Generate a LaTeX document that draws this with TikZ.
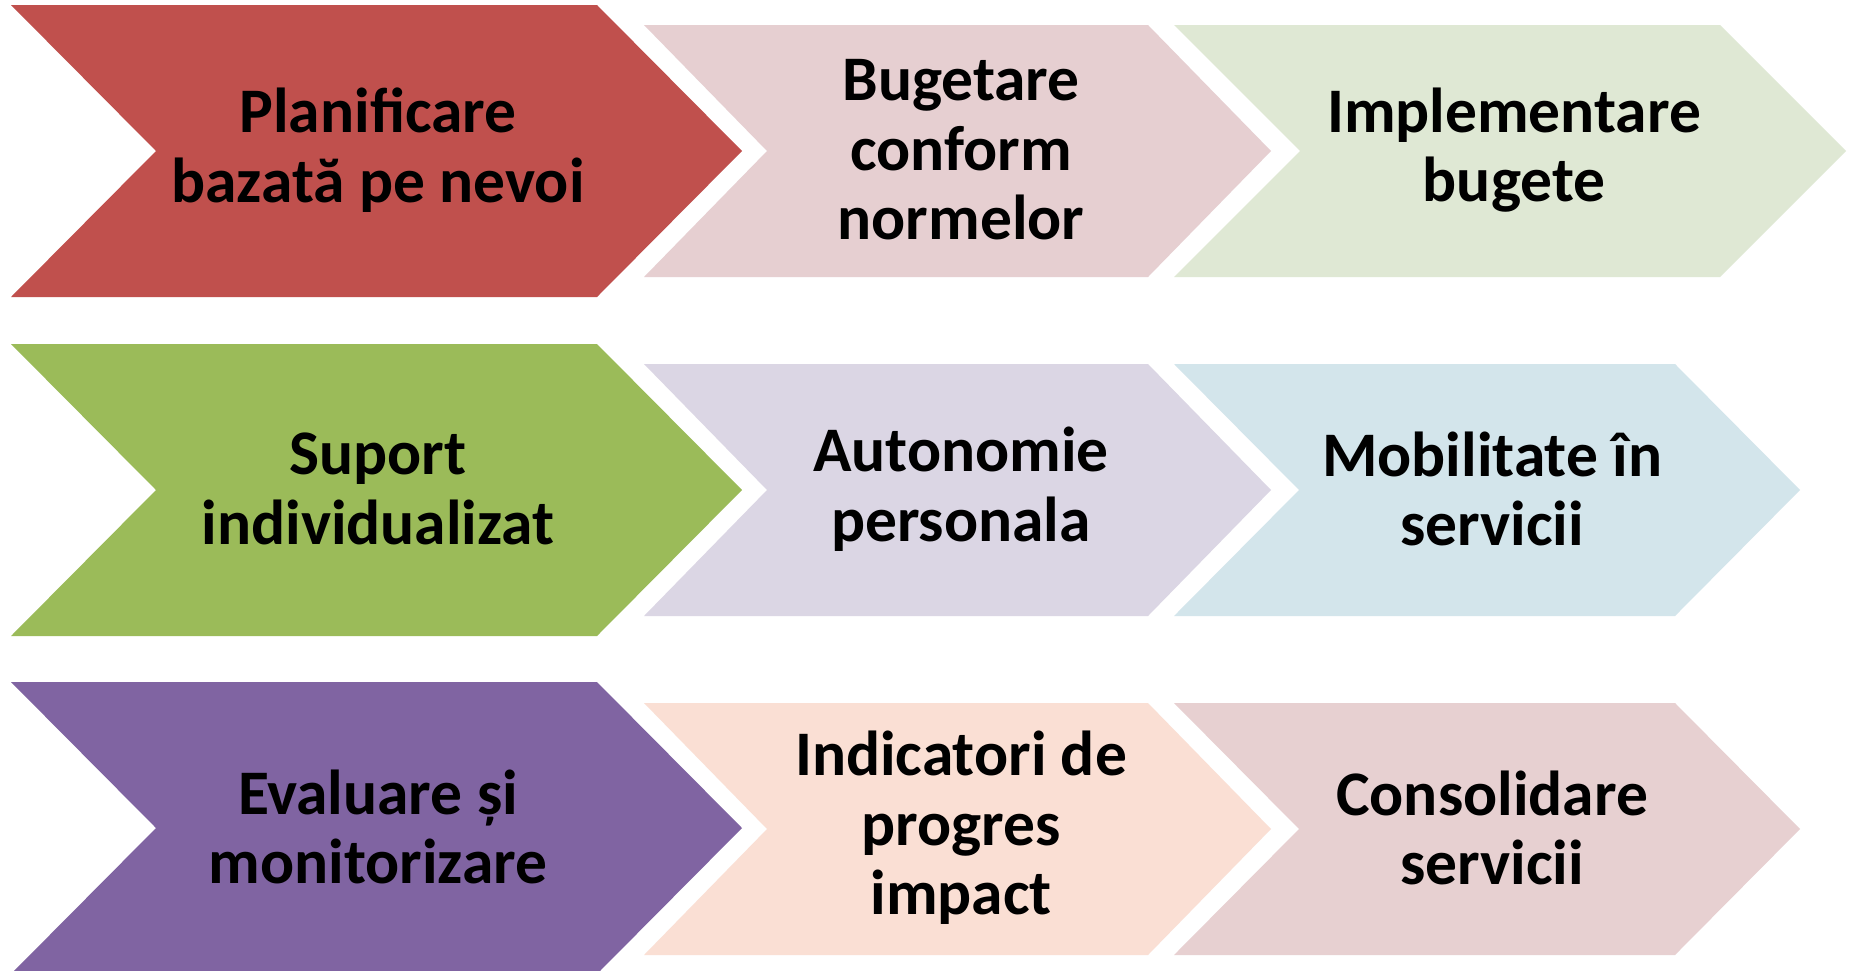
\documentclass[tikz,border=0pt]{standalone}
\usepackage{fontspec}
\setmainfont{Carlito}
\definecolor{cRed}{HTML}{C0504D}
\definecolor{cPinkA}{HTML}{E6CFD1}
\definecolor{cGreenA}{HTML}{DFE8D4}
\definecolor{cGreen}{HTML}{9BBB59}
\definecolor{cLav}{HTML}{DBD6E4}
\definecolor{cBlue}{HTML}{D3E5EB}
\definecolor{cPurple}{HTML}{8064A2}
\definecolor{cPeach}{HTML}{FADFD4}
\definecolor{cPinkB}{HTML}{E7D0D1}
% #1 left x, #2 top-right x, #3 depth, #4 top y, #5 bottom y, #6 colour
\newcommand{\chevshape}[6]{%
  \fill[#6] (#1,#4) -- (#2,#4) -- ({#2+#3},{(#4+#5)/2}) -- (#2,#5) -- (#1,#5)
    -- ({#1+#3},{(#4+#5)/2}) -- cycle;}
\tikzset{
  lbl/.style={font=\fontsize{63.5}{69.5}\selectfont\bfseries, align=center, text=black, inner sep=0pt},
}
\begin{document}
\begin{tikzpicture}[x=1pt,y=-1pt]
\useasboundingbox (0,0) rectangle (1854,970);
\clip (0,0) rectangle (1854,970);
\fill[white] (0,0) rectangle (1854,970);
% row 1
\chevshape{11}{597}{145}{5}{297}{cRed}
\chevshape{644}{1148}{123}{25}{277}{cPinkA}
\chevshape{1174}{1720}{126}{25}{277}{cGreenA}
% row 2
\chevshape{11}{597}{145}{344}{636}{cGreen}
\chevshape{644}{1148}{123}{364}{616}{cLav}
\chevshape{1174}{1675}{125}{364}{616}{cBlue}
% row 3
\chevshape{11}{597}{145}{682}{974}{cPurple}
\chevshape{644}{1148}{123}{703}{955}{cPeach}
\chevshape{1174}{1675}{125}{703}{955}{cPinkB}
% labels
\node[lbl] (t11) at (378,150) {Planificare\\bazată pe nevoi};
\node[lbl] (t12) at (961,150) {Bugetare\\conform\\normelor};
\node[lbl] (t13) at (1514,150) {Implementare\\bugete};
\node[lbl] (t21) at (378,489) {Suport\\individualizat};
\node[lbl] (t22) at (961,489) {Autonomie\\personala};
\node[lbl] (t23) at (1492,489) {Mobilitate în\\servicii};
\node[lbl] (t31) at (378,827) {Evaluare și\\monitorizare};
\node[lbl] (t32) at (961,828) {Indicatori de\\progres\\impact};
\node[lbl] (t33) at (1492,828) {Consolidare\\servicii};
\end{tikzpicture}
\end{document}
